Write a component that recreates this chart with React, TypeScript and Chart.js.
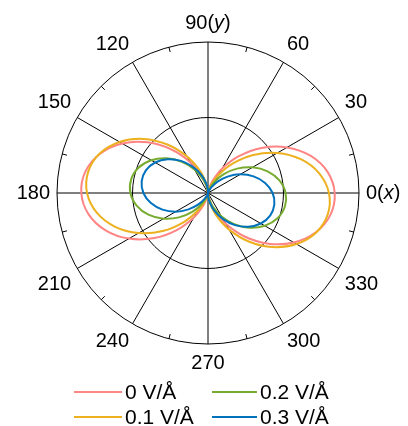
import React, { useEffect, useRef } from 'react';
import { Chart, registerables } from 'chart.js';

Chart.register(...registerables);

// Polar angles (degrees, counter-clockwise from +x)
const ANGLES = [0, 10, 20, 30, 40, 50, 60, 70, 80, 90, 100, 110, 120, 130, 140, 150, 160, 170,
  180, 190, 200, 210, 220, 230, 240, 250, 260, 270, 280, 290, 300, 310, 320, 330, 340, 350];

const SERIES_LABELS = ['0 V/Å', '0.1 V/Å', '0.2 V/Å', '0.3 V/Å'];
const SERIES_COLORS = ['#FF8585', '#EDB120', '#77AC30', '#0072BD'];

const R_0 = [0.839, 0.804, 0.722, 0.604, 0.464, 0.318, 0.185, 0.080, 0.016, 0.001, 0.036, 0.118, 0.236, 0.376, 0.522, 0.655, 0.760, 0.824,
  0.839, 0.804, 0.722, 0.604, 0.464, 0.318, 0.185, 0.080, 0.016, 0.001, 0.036, 0.118, 0.236, 0.376, 0.522, 0.655, 0.760, 0.824];
const R_01 = [0.801, 0.748, 0.654, 0.530, 0.391, 0.253, 0.134, 0.047, 0.004, 0.009, 0.062, 0.156, 0.280, 0.419, 0.557, 0.676, 0.763, 0.806,
  0.801, 0.748, 0.654, 0.530, 0.391, 0.253, 0.134, 0.047, 0.004, 0.009, 0.062, 0.156, 0.280, 0.419, 0.557, 0.676, 0.763, 0.806];
const R_02 = [0.514, 0.480, 0.420, 0.340, 0.251, 0.163, 0.086, 0.030, 0.003, 0.006, 0.040, 0.100, 0.180, 0.269, 0.357, 0.434, 0.490, 0.517,
  0.514, 0.480, 0.420, 0.340, 0.251, 0.163, 0.086, 0.030, 0.003, 0.006, 0.040, 0.100, 0.180, 0.269, 0.357, 0.434, 0.490, 0.517];
const R_03 = [0.428, 0.384, 0.321, 0.247, 0.169, 0.099, 0.043, 0.009, 0.001, 0.019, 0.063, 0.126, 0.200, 0.278, 0.348, 0.404, 0.438, 0.446,
  0.428, 0.384, 0.321, 0.247, 0.169, 0.099, 0.043, 0.009, 0.001, 0.019, 0.063, 0.126, 0.200, 0.278, 0.348, 0.404, 0.438, 0.446];

const SERIES = [R_0, R_01, R_02, R_03];

const TICK_ANGLES = [0, 30, 60, 90, 120, 150, 180, 210, 240, 270, 300, 330];
const TICK_LABELS = ['0', '30', '60', '90', '120', '150', '180', '210', '240', '270', '300', '330'];
const AXIS_ANGLES = [0, 90];
const AXIS_NAMES = ['x', 'y'];
const MINOR_TICK_ANGLES = [15, 45, 75, 105, 135, 165, 195, 225, 255, 285, 315, 345];
const R_MAX = 1;
const R_STEP = 0.5;

const FONT = '"Liberation Sans", Arial, Helvetica, sans-serif';

// radar index i sits at polar angle (360 - 10 i) mod 360 (clockwise from +x)
const N = ANGLES.length;
const radarAngle = (i: number) => ANGLES[(N - i) % N];
const radarLabels = ANGLES.map((_, i) => {
  const a = radarAngle(i);
  const k = TICK_ANGLES.indexOf(a);
  if (k < 0) return '';
  const ax = AXIS_ANGLES.indexOf(a);
  return ax >= 0 ? `${TICK_LABELS[k]}(${AXIS_NAMES[ax]})` : TICK_LABELS[k];
});

const polarPlugin = {
  id: 'polarExtras',
  beforeDatasetsDraw(chart: any) {
    const s = chart.scales.r;
    const ctx = chart.ctx;
    const R = s.getDistanceFromCenterForValue(R_MAX);
    ctx.save();
    ctx.strokeStyle = '#000';
    ctx.lineWidth = 1;
    MINOR_TICK_ANGLES.forEach((deg) => {
      const t = (deg * Math.PI) / 180;
      ctx.beginPath();
      ctx.moveTo(s.xCenter + R * Math.cos(t), s.yCenter - R * Math.sin(t));
      ctx.lineTo(s.xCenter + (R - 5) * Math.cos(t), s.yCenter - (R - 5) * Math.sin(t));
      ctx.stroke();
    });
    ctx.restore();
  },
  afterDraw(chart: any) {
    const s = chart.scales.r;
    const ctx = chart.ctx;
    ctx.save();
    // axis labels with italic axis names
    AXIS_ANGLES.forEach((a, ai) => {
      const idx = ANGLES.findIndex((_, i) => radarAngle(i) === a);
      const box = s.getPointLabelPosition(idx);
      const k = TICK_ANGLES.indexOf(a);
      const parts = [
        { t: `${TICK_LABELS[k]}(`, f: `20px ${FONT}` },
        { t: AXIS_NAMES[ai], f: `italic 20px ${FONT}` },
        { t: ')', f: `20px ${FONT}` },
      ];
      let total = 0;
      parts.forEach((p) => { ctx.font = p.f; total += ctx.measureText(p.t).width; });
      let x = (box.left + box.right) / 2 - total / 2;
      const y = (box.top + box.bottom) / 2;
      ctx.fillStyle = '#000';
      ctx.textBaseline = 'middle';
      ctx.textAlign = 'left';
      parts.forEach((p) => { ctx.font = p.f; ctx.fillText(p.t, x, y); x += ctx.measureText(p.t).width; });
    });
    // legend in two columns: column 0 -> series 0,1 ; column 1 -> series 2,3
    const cw = chart.width / 2;
    const colX = [cw - 130, cw + 8];
    const colLen = [48, 45];
    const rowY = [chart.height - 34, chart.height - 9];
    ctx.font = `21px ${FONT}`;
    ctx.textBaseline = 'middle';
    ctx.textAlign = 'left';
    chart.data.datasets.forEach((ds: any, n: number) => {
      const col = Math.floor(n / 2);
      const row = n % 2;
      const x0 = colX[col];
      const y = rowY[row];
      ctx.strokeStyle = ds.borderColor;
      ctx.lineWidth = 2;
      ctx.beginPath();
      ctx.moveTo(x0, y);
      ctx.lineTo(x0 + colLen[col], y);
      ctx.stroke();
      ctx.fillStyle = '#000';
      ctx.fillText(ds.label, x0 + colLen[col] + 3, y + 1);
    });
    ctx.restore();
  },
};

export default function App() {
  const ref = useRef<HTMLCanvasElement | null>(null);
  useEffect(() => {
    if (!ref.current) return;
    const chart = new Chart(ref.current, {
      type: 'radar',
      data: {
        labels: radarLabels,
        datasets: SERIES.map((vals, si) => ({
          label: SERIES_LABELS[si],
          data: ANGLES.map((_, i) => vals[(N - i) % N]),
          borderColor: SERIES_COLORS[si],
          backgroundColor: SERIES_COLORS[si],
          borderWidth: 2,
          pointRadius: 0,
          pointHoverRadius: 0,
          fill: false,
          tension: 0.35,
          order: SERIES.length - 1 - si,
        })),
      },
      options: {
        animation: false,
        responsive: true,
        maintainAspectRatio: false,
        layout: { padding: { top: 11, bottom: 50, left: 13, right: 2 } },
        plugins: { legend: { display: false }, tooltip: { enabled: false } },
        scales: {
          r: {
            min: 0,
            max: R_MAX,
            startAngle: 90,
            ticks: { display: false, stepSize: R_STEP },
            grid: { circular: true, color: '#000', lineWidth: 1 },
            angleLines: {
              display: true,
              color: (c: any) => (radarLabels[c.index] !== '' ? '#000' : 'rgba(0,0,0,0)'),
              lineWidth: (c: any) => (radarLabels[c.index] !== '' ? 1 : 0),
            },
            pointLabels: {
              display: true,
              padding: 7,
              font: { family: FONT, size: 20 },
              color: (c: any) => (String(c.label).includes('(') ? 'rgba(0,0,0,0)' : '#000'),
            },
          },
        },
      },
      plugins: [polarPlugin],
    });
    return () => chart.destroy();
  }, []);
  return (
    <div style={{ position: 'fixed', left: 0, top: 0, width: 408, height: 426, background: '#fff' }}>
      <canvas ref={ref} />
    </div>
  );
}
